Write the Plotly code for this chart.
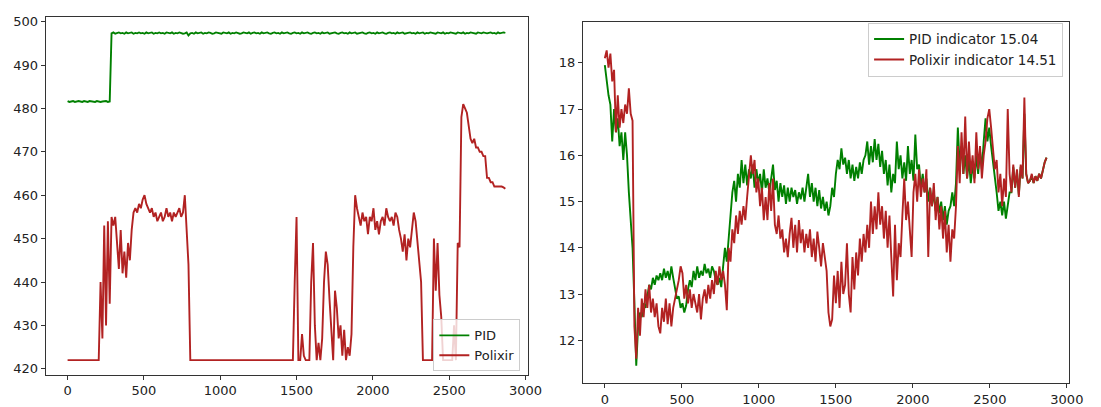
import plotly.graph_objects as go

# ---------------- data ----------------
step_idx = list(range(0, 2880, 12))  # time index (0..2868)

left_pid = [
    481.7, 481.5, 481.6, 481.7, 481.5, 481.6, 481.7, 481.6, 481.5, 481.7,
    481.6, 481.5, 481.7, 481.6, 481.6, 481.5, 481.7, 481.6, 481.5, 481.6,
    481.6, 481.7, 481.5, 481.6, 497.3, 497.5, 497.2, 497.4, 497.5, 497.3,
    497.4, 497.2, 497.5, 497.3, 497.4, 497.5, 497.2, 497.4, 497.3, 497.5,
    497.3, 497.4, 497.2, 497.5, 497.3, 497.4, 497.5, 497.2, 497.4, 497.3,
    497.5, 497.3, 497.4, 497.2, 497.5, 497.4, 497.3, 497.5, 497.2, 497.4,
    497.3, 497.5, 497.4, 497.2, 497.3, 497.5, 496.8, 497.3, 497.4, 497.2,
    497.5, 497.3, 497.4, 497.5, 497.2, 497.4, 497.3, 497.5, 497.4, 497.2,
    497.3, 497.5, 497.4, 497.3, 497.2, 497.5, 497.4, 497.3, 497.5, 497.2,
    497.4, 497.3, 497.5, 497.4, 497.2, 497.3, 497.5, 497.4, 497.3, 497.5,
    497.2, 497.4, 497.5, 497.3, 497.4, 497.2, 497.5, 497.3, 497.4, 497.5,
    497.3, 497.2, 497.4, 497.5, 497.3, 497.4, 497.2, 497.5, 497.3, 497.4,
    497.5, 497.3, 497.2, 497.4, 497.5, 497.3, 497.4, 497.2, 497.5, 497.3,
    497.4, 497.5, 497.3, 497.2, 497.4, 497.5, 497.3, 497.4, 497.2, 497.5,
    497.3, 497.4, 497.5, 497.2, 497.3, 497.4, 497.5, 497.3, 497.2, 497.4,
    497.5, 497.3, 497.4, 497.2, 497.5, 497.3, 497.4, 497.5, 497.2, 497.3,
    497.4, 497.5, 497.3, 497.2, 497.4, 497.5, 497.3, 497.4, 497.2, 497.5,
    497.3, 497.4, 497.5, 497.3, 497.2, 497.4, 497.5, 497.3, 497.4, 497.2,
    497.5, 497.3, 497.4, 497.5, 497.2, 497.3, 497.4, 497.5, 497.3, 497.4,
    497.2, 497.5, 497.3, 497.4, 497.5, 497.2, 497.4, 497.3, 497.5, 497.4,
    497.3, 497.2, 497.5, 497.4, 497.3, 497.5, 497.2, 497.4, 497.3, 497.5,
    497.4, 497.3, 497.2, 497.5, 497.4, 497.3, 497.5, 497.2, 497.4, 497.3,
    497.5, 497.4, 497.3, 497.2, 497.5, 497.4, 497.3, 497.5, 497.4, 497.3,
    497.4, 497.5, 497.3, 497.4, 497.2, 497.5, 497.3, 497.4, 497.5, 497.4,
]

left_polixir = [
    422, 422, 422, 422, 422, 422, 422, 422, 422, 422,
    422, 422, 422, 422, 422, 422, 422, 422, 440, 427,
    453, 430, 454, 435, 455, 453, 455, 450, 443, 452,
    442, 447, 441, 449, 445, 452, 456, 457, 456, 458,
    457, 459, 460, 458, 457, 456, 457, 455, 456, 454,
    455, 456, 454, 455, 457, 455, 456, 454, 456, 455,
    456, 457, 455, 456, 460, 452, 444, 422, 422, 422,
    422, 422, 422, 422, 422, 422, 422, 422, 422, 422,
    422, 422, 422, 422, 422, 422, 422, 422, 422, 422,
    422, 422, 422, 422, 422, 422, 422, 422, 422, 422,
    422, 422, 422, 422, 422, 422, 422, 422, 422, 422,
    422, 422, 422, 422, 422, 422, 422, 422, 422, 422,
    422, 422, 422, 422, 440, 455, 422, 422, 428, 423,
    422, 422, 422, 440, 449, 430, 422, 426, 422, 427,
    440, 447, 444, 436, 429, 422, 438, 434, 427, 430,
    423, 429, 422, 425, 423, 428, 448, 460, 457, 455,
    453, 456, 454, 455, 451, 455, 454, 457, 452, 454,
    451, 454, 455, 453, 457, 455, 454, 455, 453, 456,
    455, 452, 450, 447, 451, 445, 450, 448, 452, 456,
    454, 449, 444, 440, 422, 422, 422, 422, 422, 422,
    450, 438, 449, 437, 432, 422, 422, 422, 422, 422,
    422, 430, 422, 449, 448, 478, 481, 480, 479, 476,
    473, 472, 473, 471, 471, 470, 470, 469, 469, 464,
    464, 463, 463, 462, 462, 462, 462, 462, 461.8, 461.5,
]

right_pid = [
    17.95, 17.6, 17.3, 17.1, 16.3, 17.0, 16.5, 16.8, 16.2, 16.5,
    15.9, 16.5, 16.0, 15.2, 14.6, 14.0, 12.8, 11.45, 12.3, 12.6,
    12.5, 12.8, 12.7, 13.0, 13.2, 13.1, 13.35, 13.2, 13.4, 13.3,
    13.45, 13.3, 13.55, 13.35, 13.5, 13.3, 13.6, 13.35, 13.1, 12.9,
    12.95, 12.7, 12.8, 12.6, 12.75, 13.1, 13.3, 13.15, 13.5, 13.3,
    13.6, 13.35, 13.5, 13.4, 13.65, 13.45, 13.55, 13.35, 13.6, 13.5,
    13.3, 13.2, 13.35, 13.15, 13.6, 14.0, 13.7, 14.3, 14.7, 15.2,
    15.45, 15.0, 15.6, 15.3, 15.9, 15.4, 15.8, 15.35, 15.7, 15.5,
    15.8, 15.3, 15.7, 15.4, 15.6, 15.2, 15.7, 15.3, 15.5, 15.2,
    15.5, 15.8, 15.25, 15.45, 15.0, 15.4, 15.1, 15.35, 14.95, 15.3,
    15.0, 15.3, 15.1, 15.25, 14.95, 15.2, 15.05, 15.3, 15.0, 15.25,
    15.6, 15.1, 15.4, 15.0, 15.3, 14.9, 15.25, 14.85, 15.1, 14.8,
    15.0, 14.7, 14.9, 15.3, 15.1, 15.6, 15.9, 15.7, 16.15, 15.8,
    15.95, 15.6, 15.9, 15.5, 15.8, 15.45, 15.75, 15.5, 15.85, 15.6,
    15.9, 16.0, 16.3, 15.8, 16.2, 15.85, 16.35, 15.9, 16.25, 15.75,
    16.1, 15.6, 15.9, 15.35, 15.8, 15.2, 15.6, 15.4, 16.3, 15.7,
    16.0, 15.5, 15.85, 15.45, 16.2, 15.6, 15.9, 15.45, 16.45, 15.7,
    15.8, 15.3, 15.6, 15.2, 15.5, 15.0, 15.3, 14.9, 15.2, 14.8,
    15.1, 14.75, 15.0, 14.6, 14.9, 14.5, 14.8, 14.9, 15.2, 14.9,
    15.4, 16.6, 15.8, 16.2, 15.6, 16.0, 15.5, 15.9, 15.4, 15.8,
    15.5, 16.0, 15.6, 16.1, 15.7, 16.3, 16.8, 16.3, 16.6, 16.2,
    15.9, 15.5, 15.2, 14.8, 15.0, 14.7, 15.0, 14.63, 14.9, 15.2,
    15.2, 15.75, 15.3, 15.65, 15.15, 15.75, 15.5, 16.9, 15.6, 15.4,
    15.45, 15.55, 15.4, 15.55, 15.45, 15.6, 15.5, 15.7, 15.85, 15.95,
]

right_polixir = [
    18.1, 18.27, 17.9, 18.2, 17.6, 17.85, 16.5, 17.3, 16.6, 17.0,
    16.7, 17.1, 16.9, 17.45, 16.9, 16.75, 12.3, 11.6, 12.7, 12.1,
    12.9, 12.5, 13.1, 12.7, 13.2, 12.6, 12.9, 12.5, 12.8, 12.3,
    12.15, 12.7, 12.4, 12.9, 12.35, 12.8, 12.3, 12.7, 12.9, 13.1,
    13.3, 13.6, 13.45, 12.9, 13.2, 12.8, 13.1, 12.7, 13.0, 12.8,
    12.6, 13.0, 12.45, 12.9, 13.1, 12.8, 13.2, 12.9, 13.3, 13.0,
    13.5, 13.2, 13.6, 13.3, 13.5, 13.2, 12.65, 14.0, 13.7, 14.4,
    14.1, 14.7, 14.3, 14.8, 14.5, 14.9, 14.6, 15.1, 15.5, 16.0,
    15.6, 15.9, 15.2, 15.5, 14.9, 15.3, 14.6, 15.1, 14.6, 15.4,
    14.8, 15.5, 14.5, 14.3, 14.7, 14.2, 14.4, 13.9, 14.2, 13.8,
    14.3, 14.65, 14.0, 14.5, 13.9, 14.6, 14.1, 14.4, 13.9, 14.3,
    14.0, 14.4, 13.8, 14.2, 13.7, 14.35, 14.0, 13.6, 14.1, 13.8,
    13.5, 12.6, 12.3, 12.45, 13.4, 12.8, 13.5, 12.7, 13.7, 13.0,
    13.2, 14.1, 13.0, 12.6, 13.8, 13.1, 13.9, 13.4, 14.2, 13.7,
    14.3, 13.9, 14.5, 14.0, 15.0, 14.3, 14.9, 14.4, 15.2, 14.5,
    14.9, 14.2, 14.8, 14.0, 14.7, 13.8, 12.95, 14.5, 13.3, 14.1,
    13.8, 14.7, 15.5, 14.6, 15.0, 14.4, 13.8, 15.2, 15.6, 15.0,
    15.7, 15.1, 15.5, 15.2, 15.7, 13.8, 15.3, 14.9, 15.4, 14.6,
    15.1, 14.4, 14.9, 14.2, 14.8, 13.9, 14.5, 13.7, 14.4, 14.2,
    14.9, 16.2, 15.4, 16.5, 15.6, 16.84, 15.5, 16.3, 15.6, 16.0,
    15.4, 16.5, 15.7, 16.2, 15.5, 16.0, 16.3, 16.8, 17.0, 16.6,
    16.2, 15.7, 15.9, 15.2, 15.6, 14.9, 15.5, 15.1, 17.0, 15.6,
    15.2, 15.8, 15.3, 15.7, 15.1, 15.8, 15.5, 17.25, 15.6, 15.4,
    15.45, 15.6, 15.4, 15.55, 15.45, 15.6, 15.5, 15.7, 15.85, 15.95,
]

x_ticks = [0, 500, 1000, 1500, 2000, 2500, 3000]
left_y_ticks = [420, 430, 440, 450, 460, 470, 480, 490, 500]
right_y_ticks = [12, 13, 14, 15, 16, 17, 18]

left_names = ["PID", "Polixir"]
right_names = ["PID indicator 15.04", "Polixir indicator 14.51"]

GREEN = "#008000"
RED = "#b22222"
LW = 1.9

# ---------------- figure ----------------
fig = go.Figure()
fig.add_trace(go.Scatter(x=step_idx, y=left_pid, mode="lines", name=left_names[0],
                         line=dict(color=GREEN, width=LW), xaxis="x", yaxis="y", legend="legend"))
fig.add_trace(go.Scatter(x=step_idx, y=left_polixir, mode="lines", name=left_names[1],
                         line=dict(color=RED, width=LW), xaxis="x", yaxis="y", legend="legend"))
fig.add_trace(go.Scatter(x=step_idx, y=right_pid, mode="lines", name=right_names[0],
                         line=dict(color=GREEN, width=LW), xaxis="x2", yaxis="y2", legend="legend2"))
fig.add_trace(go.Scatter(x=step_idx, y=right_polixir, mode="lines", name=right_names[1],
                         line=dict(color=RED, width=LW), xaxis="x2", yaxis="y2", legend="legend2"))

axis_common = dict(showline=True, linecolor="#333", linewidth=1, mirror=True,
                   ticks="outside", ticklen=4, tickcolor="#333", showgrid=False,
                   zeroline=False, tickfont=dict(size=13, color="#222"))

fig.update_layout(
    width=1101, height=407,
    margin=dict(l=0, r=0, t=0, b=0),
    paper_bgcolor="white", plot_bgcolor="white",
    font=dict(family="DejaVu Sans", size=13, color="#222"),
    xaxis=dict(domain=[0.0421, 0.4854], range=[-143, 3014], tickvals=x_ticks,
               anchor="y", **axis_common),
    yaxis=dict(domain=[0.0749, 0.9656], range=[418.6, 501.1], tickvals=left_y_ticks,
               anchor="x", **axis_common),
    xaxis2=dict(domain=[0.5363, 0.9839], range=[-142, 3017], tickvals=x_ticks,
                anchor="y2", **axis_common),
    yaxis2=dict(domain=[0.0541, 0.9533], range=[11.07, 18.89], tickvals=right_y_ticks,
                anchor="x2", **axis_common),
    legend=dict(x=0.4787, y=0.0836, xanchor="right", yanchor="bottom",
                bgcolor="rgba(255,255,255,0.8)", bordercolor="#ccc", borderwidth=1,
                font=dict(size=13, color="#222"), tracegroupgap=0),
    legend2=dict(x=0.978, y=0.951, xanchor="right", yanchor="top",
                 bgcolor="rgba(255,255,255,0.8)", bordercolor="#ccc", borderwidth=1,
                 font=dict(size=13.5, color="#222"), tracegroupgap=0),
    showlegend=True,
)

fig.write_html("out.html")
